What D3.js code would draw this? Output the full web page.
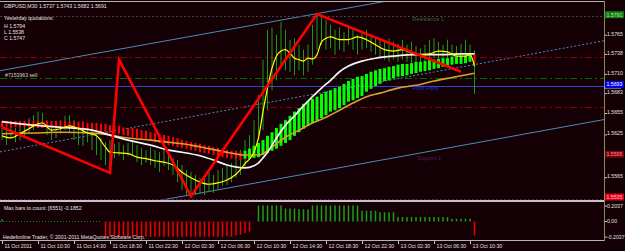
<!DOCTYPE html>
<html>
<head>
<meta charset="utf-8">
<title>GBPUSD,M30</title>
<script src="https://cdn.jsdelivr.net/npm/d3@7/dist/d3.min.js"></script>
<style>
  html, body { margin: 0; padding: 0; background: #150005; overflow: hidden; }
  #chart svg { display: block; font-family: "Liberation Sans", Arial, sans-serif; }
</style>
</head>
<body>
<div id="chart"></div>
<script>
// prices in points (1 point = 0.0001), M30 bars, bar 0 = 11 Oct 2011 06:30
var timeLabels = ["11 Oct 2011", "11 Oct 10:30", "11 Oct 14:30", "11 Oct 18:30", "11 Oct 22:30",
  "12 Oct 02:30", "12 Oct 06:30", "12 Oct 10:30", "12 Oct 14:30", "12 Oct 18:30",
  "12 Oct 22:30", "13 Oct 02:30", "13 Oct 06:30", "13 Oct 10:30"];
var timeTickBars = [0, 8, 16, 24, 32, 40, 48, 56, 64, 72, 80, 88, 96, 104];

var priceTicks = [15765, 15738, 15710, 15683, 15655, 15625, 15565];
var oscTicks = [0.2037, 0, -0.2037];
var oscTickLabels = ["0.2037", "0.00", "-0.2037"];

var barHigh = [15634, 15631, 15638, 15634, 15640, 15643, 15648, 15652, 15657, 15655,
  15645, 15643, 15640, 15645, 15651, 15652, 15645, 15638, 15634, 15637,
  15631, 15628, 15620, 15614, 15617, 15612, 15614, 15610, 15613, 15617,
  15610, 15606, 15603, 15607, 15603, 15600, 15603, 15596, 15592, 15589,
  15582, 15575, 15572, 15568, 15564, 15567, 15572, 15568, 15575, 15578,
  15582, 15585, 15592, 15603, 15617, 15624, 15645, 15680, 15730, 15772,
  15775, 15765, 15783, 15772, 15758, 15760, 15751, 15744, 15751, 15779,
  15794, 15790, 15786, 15779, 15772, 15775, 15769, 15779, 15772, 15765,
  15769, 15772, 15765, 15760, 15758, 15758, 15760, 15755, 15752, 15758,
  15751, 15755, 15749, 15746, 15751, 15758, 15760, 15755, 15751, 15758,
  15751, 15749, 15752, 15758, 15751, 15743];
var barLow = [15617, 15610, 15620, 15614, 15617, 15623, 15628, 15631, 15637, 15634,
  15624, 15617, 15620, 15626, 15631, 15628, 15617, 15610, 15609, 15614,
  15603, 15596, 15589, 15582, 15571, 15592, 15595, 15589, 15595, 15596,
  15586, 15582, 15585, 15582, 15578, 15572, 15581, 15575, 15568, 15558,
  15547, 15540, 15538, 15540, 15541, 15540, 15544, 15543, 15547, 15553,
  15554, 15558, 15564, 15568, 15578, 15589, 15603, 15617, 15631, 15659,
  15687, 15701, 15723, 15715, 15713, 15708, 15715, 15708, 15713, 15723,
  15744, 15751, 15744, 15746, 15737, 15744, 15741, 15751, 15744, 15737,
  15744, 15746, 15741, 15737, 15732, 15730, 15727, 15730, 15727, 15730,
  15727, 15724, 15727, 15723, 15727, 15730, 15732, 15730, 15727, 15727,
  15723, 15725, 15724, 15727, 15727, 15682];

// smoothed heiken ashi buffers
var haOpen = [15644, 15644, 15644, 15644, 15644, 15644, 15644, 15644, 15644, 15644,
  15644, 15644, 15644, 15644, 15643, 15643, 15643, 15643, 15643, 15641,
  15641, 15641, 15640, 15640, 15638, 15637, 15637, 15635, 15634, 15634,
  15633, 15631, 15630, 15628, 15627, 15626, 15624, 15623, 15621, 15620,
  15617, 15616, 15614, 15613, 15612, 15610, 15609, 15607, 15606, 15605,
  15603, 15602, 15602, 15600, 15591, 15591, 15592, 15593, 15596, 15599,
  15602, 15605, 15609, 15613, 15617, 15623, 15628, 15633, 15637, 15641,
  15644, 15648, 15652, 15657, 15659, 15662, 15666, 15671, 15673, 15676,
  15679, 15685, 15689, 15693, 15696, 15700, 15701, 15704, 15706, 15707,
  15708, 15710, 15711, 15713, 15714, 15715, 15717, 15718, 15720, 15721,
  15723, 15724, 15724, 15725, 15727, 15737];
var haClose = [15635, 15635, 15635, 15635, 15635, 15635, 15635, 15635, 15634, 15634,
  15634, 15634, 15634, 15634, 15634, 15633, 15633, 15633, 15631, 15631,
  15630, 15630, 15628, 15628, 15627, 15626, 15626, 15624, 15623, 15621,
  15620, 15619, 15617, 15616, 15614, 15613, 15612, 15610, 15609, 15607,
  15606, 15605, 15603, 15602, 15600, 15599, 15598, 15596, 15595, 15593,
  15592, 15591, 15591, 15589, 15602, 15605, 15609, 15613, 15617, 15623,
  15628, 15634, 15640, 15645, 15651, 15657, 15662, 15668, 15672, 15675,
  15678, 15682, 15685, 15687, 15690, 15692, 15696, 15700, 15703, 15706,
  15707, 15710, 15713, 15715, 15717, 15718, 15720, 15721, 15723, 15724,
  15724, 15725, 15727, 15727, 15728, 15730, 15730, 15731, 15732, 15732,
  15734, 15734, 15735, 15735, 15737, 15725];

// moving averages, [bar, price]
var maFast = [[0, 15623], [2, 15620], [4, 15626], [6, 15633], [8, 15640], [9, 15641], [11, 15631],
  [13, 15633], [15, 15637], [17, 15633], [19, 15627], [21, 15623], [23, 15607], [24, 15600],
  [26, 15599], [28, 15598], [30, 15593], [32, 15591], [34, 15588], [36, 15586], [38, 15582],
  [40, 15572], [42, 15564], [44, 15558], [46, 15555], [48, 15557], [50, 15561], [52, 15569],
  [54, 15584], [56, 15600], [57, 15620], [58, 15657], [59, 15690], [60, 15718], [61, 15735],
  [62, 15742], [63, 15744], [64, 15739], [65, 15732], [66, 15730], [67, 15728], [68, 15732],
  [69, 15731], [70, 15737], [71, 15755], [72, 15760], [73, 15762], [75, 15758], [77, 15758],
  [79, 15762], [81, 15758], [83, 15751], [85, 15744], [87, 15742], [89, 15744], [91, 15739],
  [93, 15737], [95, 15738], [97, 15742], [99, 15741], [101, 15735], [103, 15735], [104, 15737],
  [105, 15721]];
var maMid = [[0, 15643], [7, 15638], [13, 15635], [20, 15631], [24, 15624], [28, 15617], [33, 15610],
  [37, 15603], [40, 15600], [44, 15595], [47, 15589], [50, 15582], [54, 15578], [56, 15581],
  [57, 15585], [58, 15592], [59, 15600], [61, 15620], [63, 15638], [65, 15651], [67, 15665],
  [69, 15678], [71, 15690], [73, 15701], [75, 15713], [77, 15721], [80, 15728], [83, 15732],
  [87, 15735], [92, 15737], [97, 15737], [102, 15738], [105, 15738]];
var maSlow = [[0, 15626], [7, 15627], [13, 15628], [20, 15627], [24, 15624], [28, 15620], [33, 15617],
  [37, 15614], [42, 15610], [46, 15605], [50, 15600], [54, 15596], [57, 15596], [60, 15607],
  [63, 15621], [66, 15631], [69, 15641], [72, 15649], [75, 15659], [78, 15669], [81, 15678],
  [84, 15683], [88, 15690], [92, 15694], [96, 15700], [100, 15705], [105, 15711]];

var zigzag = [[0, 15635], [24, 15571], [26, 15730], [42, 15538], [70, 15794], [102, 15713]];

var channelUpper = [[0, 15715], [80, 15806]];
var channelMiddle = [[0, 15601], [80, 15694]];
var channelLower = [[40, 15538], [100, 15607]];

var levelNames = ["Resistance 1", "Stop", "Order", "Pivot Point", "Target", "Support 1", "Support 2"];
var levelPrices = [15791, 15734, 15704, 15693, 15664, 15595, 15535];
var bidPrice = 15691;

var oscValues = [0.03, 0, 0, 0, 0, 0, 0, 0, 0, 0,
  0, 0, 0, 0, 0, 0, 0, 0, 0, 0,
  0, 0, 0, -0.20, -0.20, -0.20, -0.20, -0.20, -0.20, -0.20,
  -0.20, -0.20, -0.20, -0.20, -0.20, -0.20, -0.20, -0.20, -0.20, -0.20,
  -0.20, -0.20, -0.20, -0.20, -0.20, -0.20, -0.20, -0.20, -0.20, -0.20,
  -0.19, -0.20, -0.18, -0.17, -0.15, -0.13, 0, 0.21, 0.21, 0.21,
  0.21, 0.21, 0.21, 0.17, 0.17, 0.17, 0.16, 0.16, 0.16, 0.21,
  0.21, 0.21, 0.21, 0.21, 0.21, 0.21, 0.21, 0.21, 0.21, 0.21,
  0.14, 0.14, 0.14, 0.14, 0.12, 0.12, 0.12, 0.12, 0.06, 0.06,
  0.06, 0.06, 0.06, 0.06, 0.06, 0.06, 0.06, 0.06, 0.06, 0.06,
  0.035, 0.035, 0.035, 0.035, 0.035, -0.1852];

var quoteLines = ["GBPUSD,M30  1.5737 1.5743 1.5682 1.5691", "Yesterday quotations:",
  "H 1.5794", "L 1.5538", "C 1.5747"];

var mt4 = {
  width: 625,
  height: 251,
  plotRight: 604,
  mainTop: 2,
  mainBottom: 200,
  subTop: 202,
  subBottom: 240.5,
  font: 5.2,
  levelStyle: {
    "Resistance 1": {line: "#4b4040", dash: "2,2", box: "#127a12", boxText: "#a8e8a8", text: "#2f6a2f"},
    "Stop": {line: "#8c0000", dash: "7,3,2,3"},
    "Order": {line: "#006c00", dash: "7,3,2,3"},
    "Pivot Point": {line: "#2848d0", dash: null, box: "#0000f0", boxText: "#ffffff", text: "#2434d8"},
    "Target": {line: "#8c0000", dash: "7,3,2,3"},
    "Support 1": {line: null, box: "#7a0012", boxText: "#ff9090", text: "#5c1a5c"},
    "Support 2": {line: "#6a1060", dash: "2,2", box: "#e0001c", boxText: "#ffc0c0", text: "#5c1a5c"}
  }
};

mt4.fmt = function(p) {
  return (p / 10000).toFixed(4);
};

mt4.draw = function() {
  let svg = d3.select("#chart").append("svg")
    .attr("width", mt4.width)
    .attr("height", mt4.height);

  svg.append("rect")
    .attr("width", mt4.width).attr("height", mt4.height)
    .attr("fill", "#150005");

  let x = d3.scaleLinear().domain([0, 105]).range([2, 474.5]);
  let y = d3.scaleLinear().domain([15535, 15791]).range([198.5, 16.2]);
  let ySub = d3.scaleLinear().domain([-0.2037, 0.2037]).range([237, 206]);

  let defs = svg.append("defs");
  defs.append("clipPath").attr("id", "clip-main").append("rect")
    .attr("x", 0).attr("y", mt4.mainTop)
    .attr("width", mt4.plotRight).attr("height", mt4.mainBottom - mt4.mainTop);
  defs.append("clipPath").attr("id", "clip-sub").append("rect")
    .attr("x", 0).attr("y", mt4.subTop)
    .attr("width", mt4.plotRight).attr("height", mt4.subBottom - mt4.subTop);

  let main = svg.append("g").attr("clip-path", "url(#clip-main)");

  // channel rays, extended across the window from their two anchors
  let ray = function(pts, dash, color) {
    let x0 = x(pts[0][0]), y0 = y(pts[0][1]);
    let x1 = x(pts[1][0]), y1 = y(pts[1][1]);
    let k = (y1 - y0) / (x1 - x0);
    main.append("line")
      .attr("x1", 0).attr("y1", y0 + k * (0 - x0))
      .attr("x2", mt4.plotRight).attr("y2", y0 + k * (mt4.plotRight - x0))
      .attr("stroke", color)
      .attr("stroke-width", 1)
      .attr("stroke-dasharray", dash);
  };
  ray(channelUpper, null, "#4a8cb4");
  ray(channelMiddle, "2,2", "#4a8cb4");
  ray(channelLower, null, "#4a8cb4");

  // horizontal levels
  levelNames.forEach(function(name, i) {
    let st = mt4.levelStyle[name];
    if (!st.line) return;
    let ly = Math.round(y(levelPrices[i])) + 0.5;
    main.append("line")
      .attr("x1", 0).attr("x2", mt4.plotRight)
      .attr("y1", ly).attr("y2", ly)
      .attr("stroke", st.line)
      .attr("stroke-width", 1)
      .attr("stroke-dasharray", st.dash);
  });

  // candles (wicks only, they read as thin green strokes)
  main.selectAll("line.candle")
    .data(barHigh)
    .enter().append("line")
    .attr("class", "candle")
    .attr("x1", (d, i) => x(i)).attr("x2", (d, i) => x(i))
    .attr("y1", d => y(d))
    .attr("y2", (d, i) => y(barLow[i]))
    .attr("stroke", "#1a9a1a")
    .attr("stroke-width", 1);

  // heiken ashi ribbon
  main.selectAll("line.ha")
    .data(haOpen)
    .enter().append("line")
    .attr("class", "ha")
    .attr("x1", (d, i) => x(i)).attr("x2", (d, i) => x(i))
    .attr("y1", d => y(d))
    .attr("y2", (d, i) => y(haClose[i]))
    .attr("stroke", (d, i) => haClose[i] >= d ? "#00ff00" : "#ff0000")
    .attr("stroke-width", (d, i) => haClose[i] >= d ? 3 : 2);

  let maLine = d3.line()
    .x(d => x(d[0]))
    .y(d => y(d[1]))
    .curve(d3.curveMonotoneX);

  main.append("path").datum(maSlow)
    .attr("d", maLine).attr("fill", "none")
    .attr("stroke", "#d9a030").attr("stroke-width", 1.6);
  main.append("path").datum(maMid)
    .attr("d", maLine).attr("fill", "none")
    .attr("stroke", "#f4f4f4").attr("stroke-width", 1.7);
  main.append("path").datum(maFast)
    .attr("d", maLine).attr("fill", "none")
    .attr("stroke", "#ffff00").attr("stroke-width", 1.2);

  main.append("path").datum(zigzag)
    .attr("d", d3.line().x(d => x(d[0])).y(d => y(d[1])))
    .attr("fill", "none")
    .attr("stroke", "#ff0000")
    .attr("stroke-width", 2.6)
    .attr("stroke-linejoin", "miter");

  // level captions
  levelNames.forEach(function(name, i) {
    let st = mt4.levelStyle[name];
    if (!st.text) return;
    main.append("text")
      .attr("x", x(91) + (name == "Support 1" ? 6 : 1))
      .attr("y", y(levelPrices[i]) + 4.5)
      .attr("fill", st.text)
      .attr("font-size", 5.4)
      .text(name);
  });

  // quote block
  let quoteY = [7.8, 19.8, 27.8, 34, 40.2];
  quoteLines.forEach(function(t, i) {
    svg.append("text")
      .attr("x", 4).attr("y", quoteY[i])
      .attr("fill", "#e4e4e4")
      .attr("font-size", mt4.font)
      .text(t);
  });
  svg.append("text")
    .attr("x", 5).attr("y", y(15704) - 1.5)
    .attr("fill", "#d0d0d0")
    .attr("font-size", mt4.font)
    .text("#7153963 sell");

  // sub window histogram (zero values give zero-length bars)
  let sub = svg.append("g").attr("clip-path", "url(#clip-sub)");
  sub.append("line")
    .attr("x1", 0).attr("x2", x(22))
    .attr("y1", ySub(0)).attr("y2", ySub(0))
    .attr("stroke", "#0c8a0c")
    .attr("stroke-dasharray", "1,2");
  sub.selectAll("line.osc")
    .data(oscValues)
    .enter().append("line")
    .attr("class", "osc")
    .attr("x1", (d, i) => x(i)).attr("x2", (d, i) => x(i))
    .attr("y1", ySub(0))
    .attr("y2", d => ySub(d))
    .attr("stroke", d => d > 0 ? "#17a017" : "#f00000")
    .attr("stroke-width", 1.5);

  svg.append("text")
    .attr("x", 4).attr("y", 210)
    .attr("fill", "#e4e4e4").attr("font-size", mt4.font)
    .text("Max bars to count: [6551]   -0.1852");
  svg.append("text")
    .attr("x", 3).attr("y", 239)
    .attr("fill", "#e4e4e4").attr("font-size", mt4.font)
    .text("Hedefonline Trader, \u00a9 2001-2011 MetaQuotes Software Corp.");

  // frames
  let frame = svg.append("g").attr("shape-rendering", "crispEdges");
  frame.append("line").attr("x1", 0).attr("x2", mt4.plotRight).attr("y1", 1).attr("y2", 1)
    .attr("stroke", "#b4b4b4");
  frame.append("rect").attr("x", 0).attr("y", 200).attr("width", mt4.plotRight).attr("height", 2)
    .attr("fill", "#c4c4c4");
  frame.append("line").attr("x1", 0).attr("x2", mt4.plotRight).attr("y1", 240.5).attr("y2", 240.5)
    .attr("stroke", "#b4b4b4");
  frame.append("line").attr("x1", mt4.plotRight + 0.5).attr("x2", mt4.plotRight + 0.5)
    .attr("y1", 1).attr("y2", 241)
    .attr("stroke", "#8c8c52");

  // price axis
  let priceAxis = svg.append("g")
    .attr("transform", "translate(" + (mt4.plotRight + 1) + ",0)")
    .call(d3.axisRight(y).tickValues(priceTicks).tickSize(2).tickFormat(mt4.fmt));
  priceAxis.select(".domain").remove();
  priceAxis.selectAll("line").attr("stroke", "#c8c8c8");
  priceAxis.selectAll("text")
    .attr("x", 2).attr("dy", null).attr("y", 0.3)
    .attr("fill", "#e0e0e0").attr("font-size", mt4.font)
    .attr("font-family", "Liberation Sans, Arial, sans-serif");

  // bid marker
  svg.append("line")
    .attr("x1", mt4.plotRight).attr("x2", 621)
    .attr("y1", y(bidPrice) + 0.5).attr("y2", y(bidPrice) + 0.5)
    .attr("stroke", "#f0f0f0");

  // level price boxes on the axis
  levelNames.forEach(function(name, i) {
    let st = mt4.levelStyle[name];
    if (!st.box) return;
    let cy = y(levelPrices[i]) - 1.5;
    svg.append("rect")
      .attr("x", mt4.plotRight + 1).attr("y", cy - 3.5)
      .attr("width", 19).attr("height", 7)
      .attr("fill", st.box);
    svg.append("text")
      .attr("x", mt4.plotRight + 2.5).attr("y", cy + 1.9)
      .attr("fill", st.boxText).attr("font-size", mt4.font)
      .text(mt4.fmt(levelPrices[i]));
  });

  // oscillator axis
  oscTicks.forEach(function(v, i) {
    svg.append("line")
      .attr("x1", mt4.plotRight + 1).attr("x2", mt4.plotRight + 3)
      .attr("y1", ySub(v)).attr("y2", ySub(v))
      .attr("stroke", "#c8c8c8");
    svg.append("text")
      .attr("x", mt4.plotRight + 3).attr("y", ySub(v) + 1.6)
      .attr("fill", "#e0e0e0").attr("font-size", mt4.font)
      .text(oscTickLabels[i]);
  });

  // time axis
  let timeAxis = svg.append("g")
    .attr("transform", "translate(0,241)")
    .call(d3.axisBottom(x).tickValues(timeTickBars).tickSize(3)
      .tickFormat((d, i) => timeLabels[i]));
  timeAxis.select(".domain").remove();
  timeAxis.selectAll("line").attr("stroke", "#c8c8c8");
  timeAxis.selectAll("text")
    .attr("text-anchor", "start")
    .attr("x", 2).attr("y", 7).attr("dy", null)
    .attr("fill", "#e0e0e0").attr("font-size", mt4.font)
    .attr("font-family", "Liberation Sans, Arial, sans-serif");
};

mt4.draw();
</script>
</body>
</html>
